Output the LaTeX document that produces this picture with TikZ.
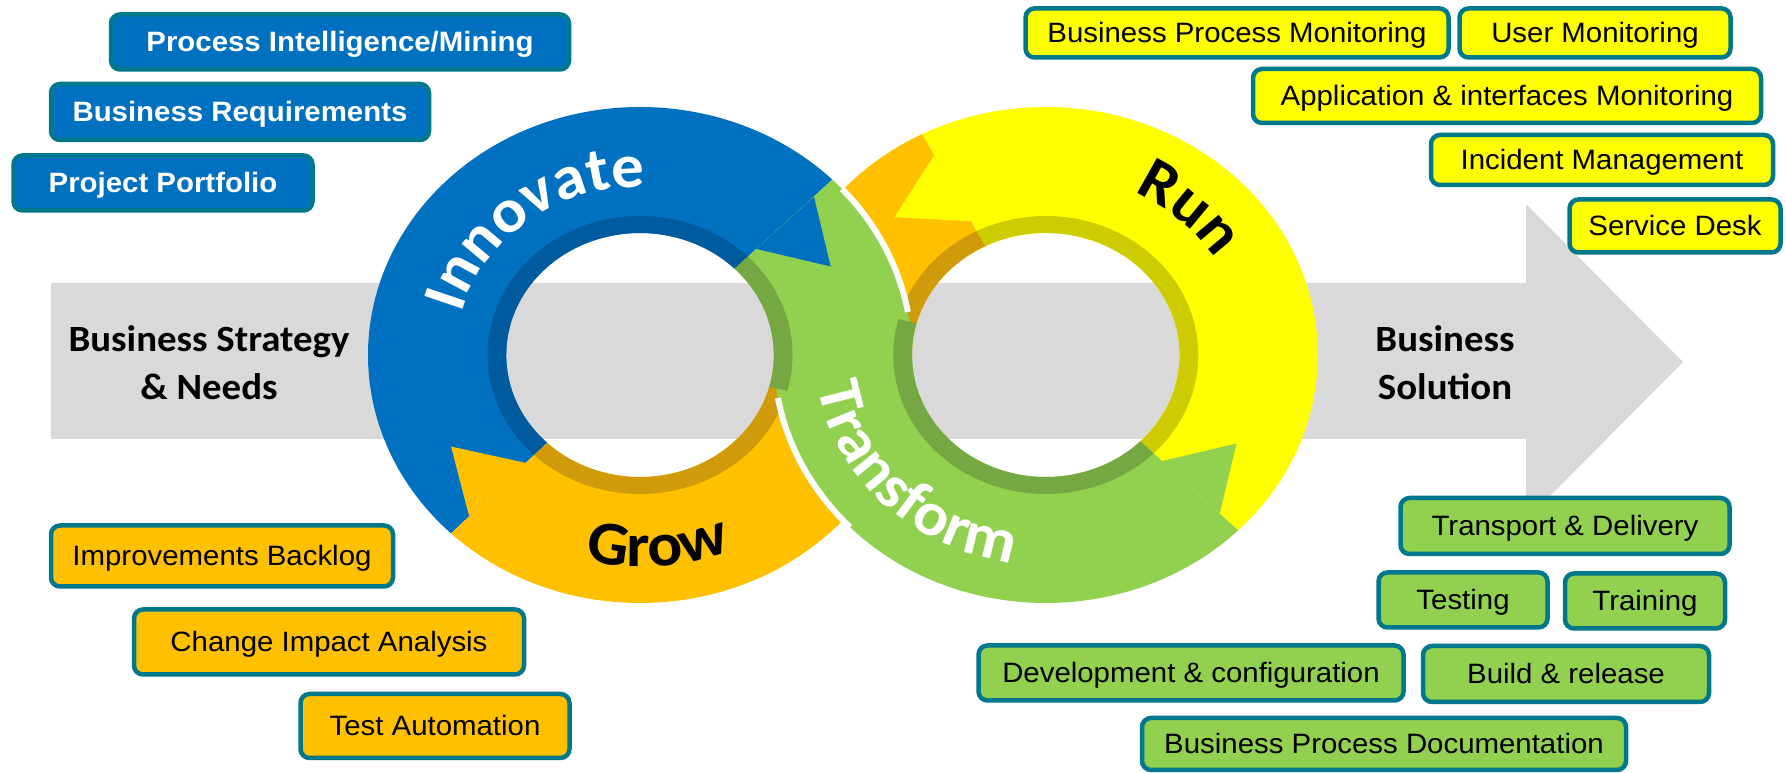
\documentclass[tikz,border=0pt]{standalone}
\usepackage{fontspec}
\usetikzlibrary{calc,decorations.text}
\newfontfamily\arialfont{Liberation Sans}[FakeStretch=1.05]
\newfontfamily\calibri{Carlito}[FakeStretch=1.05]
\newcommand\boxfont{\arialfont\fontsize{28}{30}\selectfont}
\newcommand\boxfontb{\arialfont\bfseries\fontsize{28}{30}\selectfont}
\newcommand\bigfont{\calibri\bfseries\fontsize{37}{48}\selectfont}
\newcommand\ringfont{\calibri\bfseries\fontsize{62}{62}\selectfont}

\definecolor{innoblue}{HTML}{0070C0}
\definecolor{innodark}{HTML}{005A9E}
\definecolor{growor}{HTML}{FFC000}
\definecolor{growdark}{HTML}{CF9B0B}
\definecolor{runyellow}{HTML}{FFFF00}
\definecolor{rundark}{HTML}{CCCC00}
\definecolor{transgreen}{HTML}{92D050}
\definecolor{transdark}{HTML}{75A742}
\definecolor{arrowgray}{HTML}{D9D9D9}
\definecolor{boxline}{HTML}{00788C}

\tikzset{
  ringout/.style={x radius=272, y radius=248},
  ringin/.style={x radius=133.8, y radius=122},
  ringrim/.style={x radius=152.5, y radius=139},
  box/.style={draw=boxline, line width=4.5, rounded corners=9, inner sep=0pt,
    text height=20pt, text depth=0pt, font=\boxfont},
  innobox/.style={box, fill=innoblue, text=white, font=\boxfontb},
  runbox/.style={box, fill=runyellow},
  growbox/.style={box, fill=growor},
  transbox/.style={box, fill=transgreen},
}

\begin{document}
\begin{tikzpicture}[x=1pt, y=1pt]
			\useasboundingbox (0,0) rectangle (1786,773);

			\fill[arrowgray] (51,490) -- (1526,490) -- (1526,569) -- (1683,411)
				-- (1526,253) -- (1526,334) -- (51,334) -- cycle;

			\coordinate (L) at (640,418);
			\coordinate (R) at (1045.8,418);

			\fill[innoblue] ($(L)+(45:272 and 248)$) arc[start angle=45, end angle=226, ringout]
				-- ($(L)+(226:133.8 and 122)$) arc[start angle=226, end angle=45, ringin] -- cycle;
			\fill[runyellow] ($(R)+(-45:272 and 248)$) arc[start angle=-45, end angle=117, ringout]
				-- ($(R)+(117:133.8 and 122)$) arc[start angle=117, end angle=-45, ringin] -- cycle;
			\fill[growor] ($(R)+(117:272 and 248)$) arc[start angle=117, end angle=180, ringout]
				arc[start angle=0, end angle=-134, ringin]
				-- ($(L)+(-134:272 and 248)$) arc[start angle=-134, end angle=0, ringout]
				arc[start angle=180, end angle=117, ringin] -- cycle;

			\foreach \ctr/\sa/\ea/\col in {L/45/226/innodark, L/226/345/growdark, R/-45/117/rundark, R/117/165/growdark}
			\fill[\col] ($(\ctr)+(\sa:152.5 and 139)$) arc[start angle=\sa, end angle=\ea, ringrim]
				-- ($(\ctr)+(\ea:133.8 and 122)$) arc[start angle=\ea, end angle=\sa, ringin] -- cycle;

			\fill[transgreen] ($(L)+(45:133.8 and 122)$) -- ($(L)+(45:272 and 248)$)
				arc[start angle=45, end angle=0, ringout] arc[start angle=180, end angle=315, ringin]
				-- ($(R)+(315:272 and 248)$) arc[start angle=315, end angle=180, ringout]
				arc[start angle=0, end angle=45, ringin] -- cycle;
			\draw[white, line width=6] ($(L)+(42:272 and 248)$) arc[start angle=42, end angle=10, ringout];
			\draw[white, line width=6] ($(R)+(190:272 and 248)$) arc[start angle=190, end angle=224, ringout];

			\foreach \ctr/\sa/\ea in {L/-15/45, R/165/315}
			\fill[transdark] ($(\ctr)+(\sa:152.5 and 139)$) arc[start angle=\sa, end angle=\ea, ringrim]
				-- ($(\ctr)+(\ea:133.8 and 122)$) arc[start angle=\ea, end angle=\sa, ringin] -- cycle;

			\foreach \ctr/\base/\tip/\col in {L/45/27/innoblue, L/226/208/growor, R/315/333/transgreen, R/117/135/runyellow}
			\fill[\col] ($(\ctr)+(\base:246 and 224)$) -- ($(\ctr)+(\tip:214 and 195)$)
				-- ($(\ctr)+(\base:164.5 and 150)$) -- cycle;

			\path[decorate, decoration={text along path, text={|\ringfont|Innovate}, text align=center, text color=white}]
				($(L)+(188:184.3 and 168)$) arc[start angle=188, end angle=68, x radius=184.3, y radius=168];
			\path[decorate, decoration={text along path, text={|\ringfont|Grow}, text align=center}]
				($(L)+(215:232.6 and 212)$) arc[start angle=215, end angle=335, x radius=232.6, y radius=212];
			\path[decorate, decoration={text along path, text={|\ringfont|Run}, text align=center}]
				($(R)+(106:199.7 and 182)$) arc[start angle=106, end angle=-14, x radius=199.7, y radius=182];
			\path[decorate, decoration={text along path, text={|\ringfont|Transform}, text align=center, text color=white}]
				($(R)+(163:230.4 and 210)$) arc[start angle=163, end angle=285, x radius=230.4, y radius=210];

			\node[font=\bigfont, align=center] (needs) at (209,410) {Business Strategy\\\& Needs};
			\node[font=\bigfont, align=center] (solution) at (1445,410) {Business\\Solution};

			\node[innobox, minimum width=458, minimum height=55] (pim) at (340,731) {Process Intelligence/Mining};
			\node[innobox, minimum width=378, minimum height=56] (breq) at (240,661) {Business Requirements};
			\node[innobox, minimum width=299, minimum height=55] (ppf) at (163,590) {Project Portfolio};

			\node[runbox, minimum width=423, minimum height=49] (bpm) at (1237,740) {Business Process Monitoring};
			\node[runbox, minimum width=271, minimum height=49] (usr) at (1595,740) {User Monitoring};
			\node[runbox, minimum width=508, minimum height=54] (appm) at (1507,677) {Application \& interfaces Monitoring};
			\node[runbox, minimum width=342, minimum height=50] (incm) at (1602,613) {Incident Management};
			\node[runbox, minimum width=211, minimum height=53] (sdesk) at (1675,547) {Service Desk};

			\node[growbox, minimum width=342, minimum height=61] (impb) at (222,217) {Improvements Backlog};
			\node[growbox, minimum width=390, minimum height=65] (cia) at (329,131) {Change Impact Analysis};
			\node[growbox, minimum width=269, minimum height=64] (tauto) at (435,47) {Test Automation};

			\node[transbox, minimum width=329, minimum height=56] (tdel) at (1565,247) {Transport \& Delivery};
			\node[transbox, minimum width=169, minimum height=55] (tst) at (1463,173) {Testing};
			\node[transbox, minimum width=160, minimum height=55] (trn) at (1645,172) {Training};
			\node[transbox, minimum width=425, minimum height=55] (devc) at (1191,100) {Development \& configuration};
			\node[transbox, minimum width=286, minimum height=56] (bldr) at (1566,99) {Build \& release};
			\node[transbox, minimum width=484, minimum height=52] (bpd) at (1384,29) {Business Process Documentation};
		\end{tikzpicture}
\end{document}
